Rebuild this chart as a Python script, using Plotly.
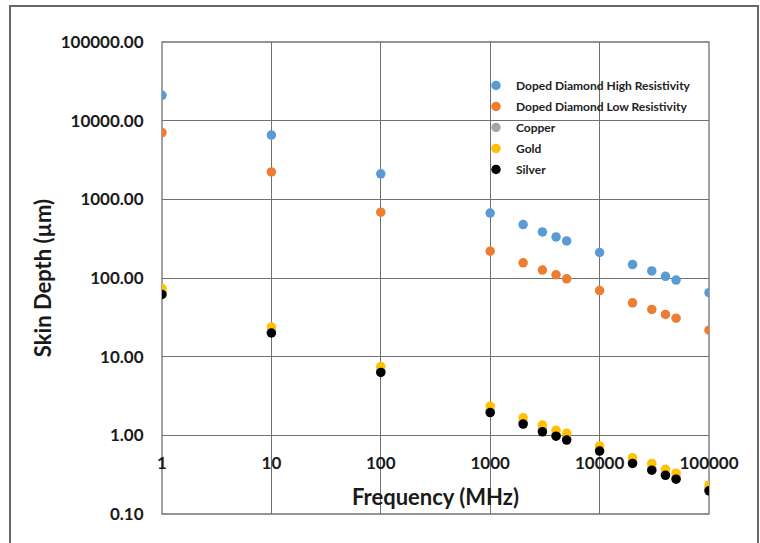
import plotly.graph_objects as go

freq = [1, 10, 100, 1000, 2000, 3000, 4000, 5000, 10000, 20000, 30000, 40000, 50000, 100000]
high_res = [21000, 6550, 2110, 670, 478, 385, 333, 296, 211, 148, 123, 105, 94, 65]
low_res = [7050, 2230, 686, 219, 156, 126, 110, 97.5, 69.3, 48.3, 39.8, 34.4, 30.8, 21.7]
copper = [66, 20.8, 6.6, 2.05, 1.46, 1.18, 1.02, 0.92, 0.65, 0.46, 0.38, 0.33, 0.29, 0.21]
gold = [73.6, 23.8, 7.5, 2.35, 1.67, 1.35, 1.16, 1.06, 0.73, 0.52, 0.44, 0.37, 0.33, 0.233]
silver = [61.7, 20.0, 6.3, 1.95, 1.39, 1.11, 0.975, 0.87, 0.63, 0.44, 0.36, 0.31, 0.277, 0.197]

names = ["Doped Diamond High Resistivity", "Doped Diamond Low Resistivity", "Copper", "Gold", "Silver"]
series = [high_res, low_res, copper, gold, silver]
colors = ["#5B9BD5", "#ED7D31", "#A5A5A5", "#FFC000", "#000000"]

FONT = "Lato"
fig = go.Figure()
for i, (n, s, c) in enumerate(zip(names, series, colors)):
    fig.add_trace(go.Scatter(x=freq, y=s, mode="markers", name=n, legendgroup=f"g{i}",
                             marker=dict(color=c, size=9.5, line=dict(width=0))))

W, H = 760, 543
L, R, T, B = 162, 51, 42, 29
pw = W - L - R
ph = H - T - B
pos_y1 = 1.0 / 6.0

fig.update_layout(
    width=W, height=H,
    margin=dict(l=L, r=R, t=T, b=B),
    paper_bgcolor="white", plot_bgcolor="white",
    font=dict(family=FONT, color="#1a1a1a", size=16),
    showlegend=True,
    legend=dict(x=(476 - L) / pw, y=(H - B - 71) / ph, xanchor="left", yanchor="top",
                bgcolor="rgba(0,0,0,0)", borderwidth=0, tracegroupgap=2,
                font=dict(family=FONT, size=12, color="#222", weight="bold"),
                itemwidth=30),
    xaxis=dict(type="log", range=[0, 5], dtick=1, tickformat="d",
               anchor="free", position=pos_y1,
               showgrid=True, gridcolor="#707070", gridwidth=1.3,
               showline=False, zeroline=False,
               ticks="outside", ticklen=12, tickcolor="rgba(0,0,0,0)",
               tickfont=dict(family=FONT, size=17, color="#1a1a1a", weight="bold"),
               title=dict(text="Frequency (MHz)", standoff=17,
                          font=dict(family=FONT, size=22, color="#1a1a1a", weight="bold"))),
    yaxis=dict(type="log", range=[-1, 5], dtick=1, tickformat=".2f",
               showgrid=True, gridcolor="#707070", gridwidth=1.3,
               showline=False, zeroline=False,
               ticks="outside", ticklen=14, tickcolor="rgba(0,0,0,0)",
               tickfont=dict(family=FONT, size=17, color="#1a1a1a", weight="bold"),
               title=dict(text="Skin Depth (µm)", standoff=2,
                          font=dict(family=FONT, size=22, color="#1a1a1a", weight="bold"))),
)

fig.add_shape(type="rect", xref="x domain", yref="y domain", x0=0, x1=1, y0=0, y1=1,
              line=dict(color="#707070", width=1.3), layer="below")
fig.add_shape(type="rect", xref="paper", yref="paper",
              x0=(10 - L) / pw, x1=(758 - L) / pw,
              y0=-(B + 5) / ph, y1=(H - B - 6) / ph,
              line=dict(color="#666666", width=2))

fig.write_html("out.html", config={"displayModeBar": False},
               post_script="document.body.style.margin='0px';")
